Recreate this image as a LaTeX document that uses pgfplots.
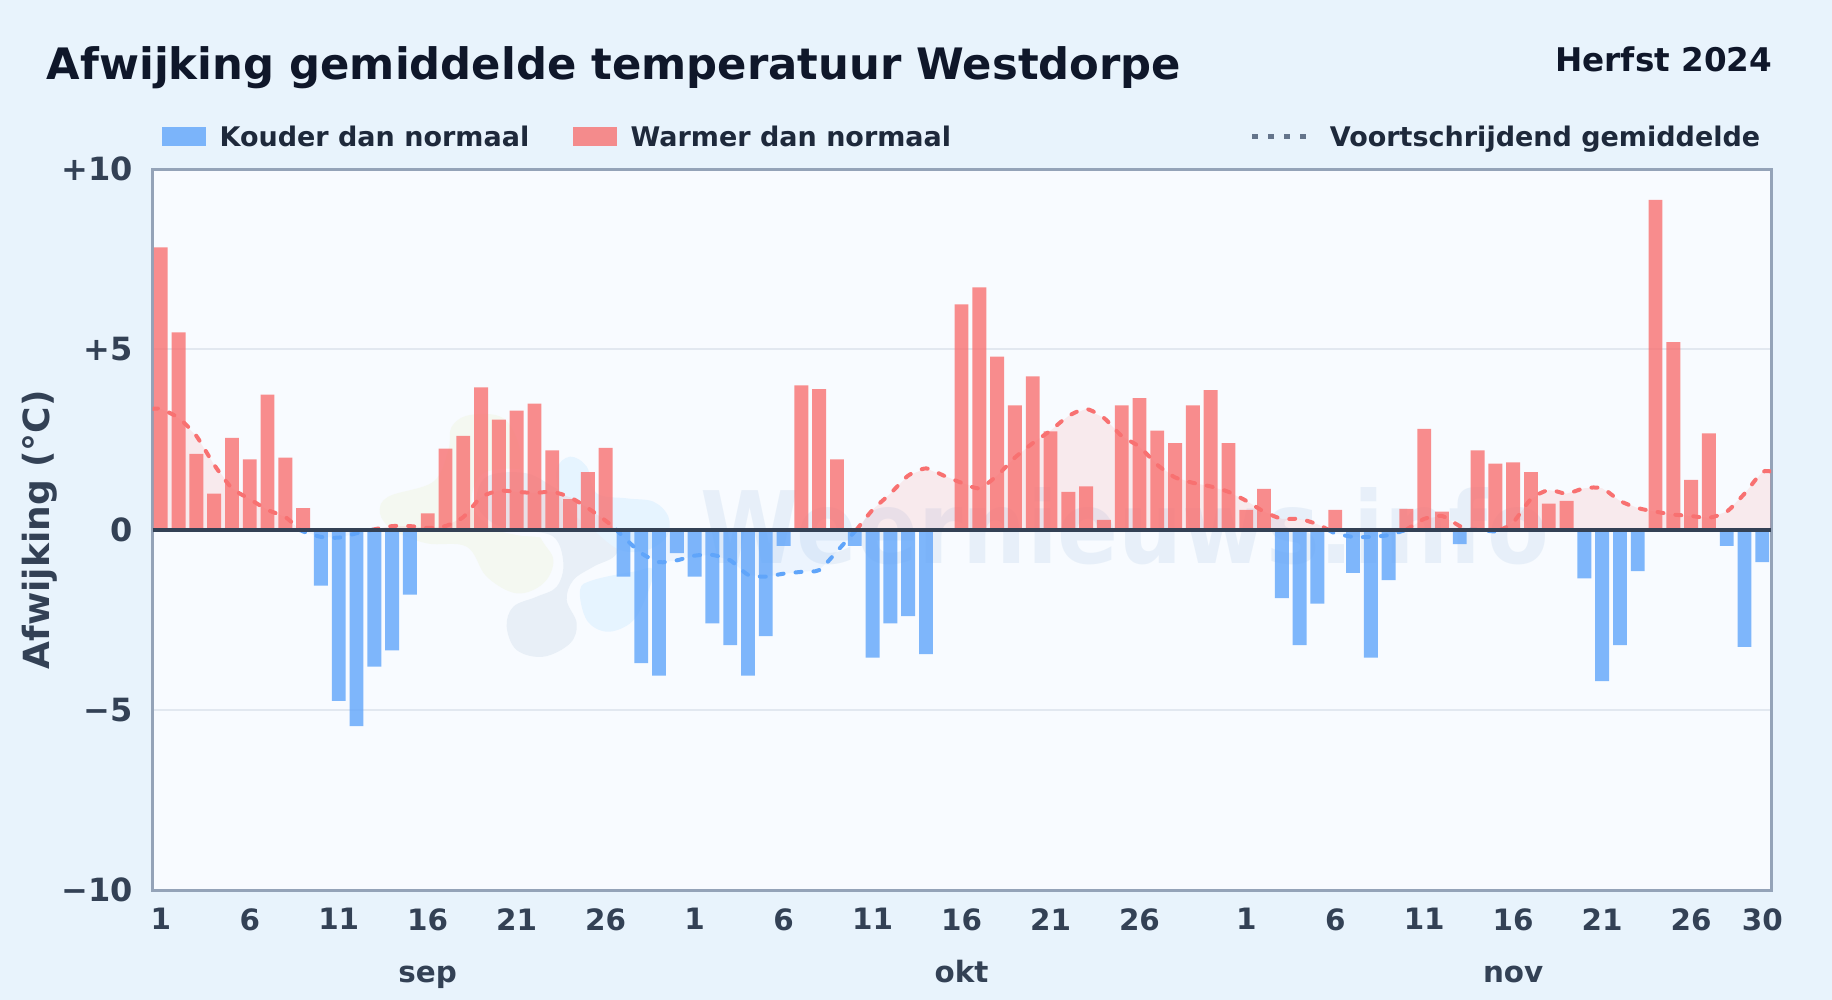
\documentclass[border=0pt]{standalone}
\usepackage{pgfplots}
\usepackage{pgfplotstable}
\usepackage{fontspec}
\setmainfont{DejaVu Sans}
\newfontfamily\wmfont[FakeStretch=0.9]{DejaVu Sans Bold}
\pgfplotsset{compat=1.18}

\definecolor{pagebg}{HTML}{E8F3FC}
\definecolor{plotbg}{HTML}{F8FBFF}
\definecolor{frame}{HTML}{94A3B8}
\definecolor{titlec}{HTML}{0F172A}
\definecolor{labelc}{HTML}{334155}
\definecolor{legc}{HTML}{1E293B}
\definecolor{coldc}{HTML}{60A5FA}
\definecolor{warmc}{HTML}{F87171}
\definecolor{gridc}{HTML}{E2E8F0}
\definecolor{dotc}{HTML}{64748B}
\definecolor{logog}{HTML}{F4F8F1}
\definecolor{logod}{HTML}{E8EFF7}
\definecolor{logob}{HTML}{E6F4FF}
\definecolor{wmark}{HTML}{5B8FC7}

% day index (1 sep = 1), deviation in degrees
\pgfplotstableread{
x y
1 7.83
2 5.47
3 2.1
4 1.0
5 2.55
6 1.95
7 3.75
8 2.0
9 0.6
16 0.45
17 2.25
18 2.6
19 3.95
20 3.05
21 3.3
22 3.5
23 2.2
24 0.85
25 1.6
26 2.27
37 4.0
38 3.9
39 1.95
46 6.25
47 6.72
48 4.8
49 3.45
50 4.25
51 2.73
52 1.05
53 1.2
54 0.27
55 3.45
56 3.65
57 2.75
58 2.4
59 3.45
60 3.87
61 2.4
62 0.55
63 1.13
67 0.55
71 0.58
72 2.8
73 0.5
75 2.2
76 1.83
77 1.87
78 1.6
79 0.72
80 0.8
85 9.15
86 5.2
87 1.38
88 2.67
}\warmtable

\pgfplotstableread{
x y
10 -1.55
11 -4.75
12 -5.45
13 -3.8
14 -3.35
15 -1.8
27 -1.3
28 -3.7
29 -4.05
30 -0.65
31 -1.3
32 -2.6
33 -3.2
34 -4.05
35 -2.95
36 -0.45
40 -0.45
41 -3.55
42 -2.6
43 -2.4
44 -3.45
64 -1.9
65 -3.2
66 -2.05
68 -1.2
69 -3.55
70 -1.4
74 -0.4
81 -1.35
82 -4.2
83 -3.2
84 -1.15
89 -0.45
90 -3.25
91 -0.9
}\coldtable

% running mean, warm and cold part; the crossings of zero are in both
\pgfplotstableread{
x y
0.5 3.35
1 3.35
2 3.1
3 2.6
4 1.8
5 1.15
6 0.85
7 0.55
8 0.35
8.8 0
}\warmA
\pgfplotstableread{
x y
12.9 0
14 0.1
15 0.1
16 0.05
17 0.1
18 0.35
19 0.9
20 1.08
21 1.05
22 1.02
23 1.05
24 0.9
25 0.6
26 0.25
26.6 0
}\warmB
\pgfplotstableread{
x y
40.1 0
41 0.55
42 1.0
43 1.5
44 1.7
45 1.5
46 1.3
47 1.15
48 1.5
49 2.0
50 2.4
51 2.75
52 3.15
53 3.35
54 3.1
55 2.6
56 2.3
57 1.8
58 1.45
59 1.3
60 1.2
61 1.05
62 0.8
63 0.5
64 0.3
65 0.3
66 0.15
66.6 0
}\warmC
\pgfplotstableread{
x y
71 0
72 0.3
73 0.38
74 0.1
74.6 0
}\warmD
\pgfplotstableread{
x y
76.3 0
77 0.2
78 0.85
79 1.1
80 1.0
81 1.15
82 1.15
83 0.8
84 0.6
85 0.5
86 0.42
87 0.38
88 0.33
89 0.5
90 1.0
91 1.6
91.6 1.6
}\warmE

\pgfplotstableread{
x y
8.8 0
9 -0.05
10 -0.2
11 -0.22
12 -0.1
12.9 0
}\coldA
\pgfplotstableread{
x y
26.6 0
27 -0.2
28 -0.65
29 -0.9
30 -0.85
31 -0.72
32 -0.7
33 -0.85
34 -1.25
35 -1.3
36 -1.22
37 -1.17
38 -1.12
39 -0.6
40 -0.05
40.1 0
}\coldB
\pgfplotstableread{
x y
66.6 0
67 -0.1
68 -0.2
69 -0.2
70 -0.15
71 0
}\coldC
\pgfplotstableread{
x y
74.6 0
75 0
76 -0.05
76.3 0
}\coldD

\tikzset{
	warmarea/.style={fill=warmc, fill opacity=0.12, draw=none},
	coldarea/.style={fill=coldc, fill opacity=0.08, draw=none},
	warmline/.style={warmc, line width=2pt, line cap=round, dash pattern=on 3pt off 6pt, smooth, tension=0.4},
	coldline/.style={coldc, line width=2pt, line cap=round, dash pattern=on 3pt off 6pt, smooth, tension=0.4},
	warmbar/.style={fill=warmc, fill opacity=0.8, draw=none},
	coldbar/.style={fill=coldc, fill opacity=0.8, draw=none},
	monthlab/.style={font=\bfseries\fontsize{14.7}{16}\selectfont, text=labelc, anchor=base},
	leglab/.style={font=\bfseries\fontsize{13.5}{15}\selectfont, text=legc, inner sep=0pt},
}

\begin{document}
\begin{tikzpicture}[x=1pt, y=1pt]
	\fill[pagebg] (0,0) rectangle (916,500);
	\path[use as bounding box] (0,0) rectangle (916,500);
	\fill[plotbg] (76.3,54.9) rectangle (885.5,415.4);

	% watermark: logo blobs and name, behind the axis
	\begin{scope}[shift={(180,305)}, x=0.1667pt, y=-0.1667pt]
		\fill[logog] plot[smooth cycle, tension=0.6] coordinates {(60,370) (85,320) (220,275) (265,180) (275,110) (330,75) (430,85) (480,180) (480,300) (540,440) (580,510) (550,580) (470,610) (380,560) (320,470) (200,460) (100,420)};
		\fill[plotbg] plot[smooth cycle, tension=0.6] coordinates {(370,250) (500,240) (600,290) (730,320) (785,400) (785,500) (710,545) (655,585) (640,630) (665,700) (640,770) (550,815) (460,790) (425,710) (445,640) (520,610) (575,580) (595,520) (565,450) (470,435) (390,410) (335,340)};
		\fill[logod] plot[smooth cycle, tension=0.6] coordinates {(380,260) (500,250) (600,300) (720,330) (770,400) (770,490) (700,530) (640,570) (620,630) (650,700) (630,760) (550,800) (470,780) (440,710) (460,650) (530,620) (590,590) (610,520) (580,440) (480,420) (400,400) (350,340)};
		\fill[logob] plot[smooth cycle, tension=0.6] coordinates {(590,240) (630,200) (680,230) (710,310) (800,325) (880,335) (925,380) (920,440) (860,480) (780,480) (700,420) (610,340)};
		\fill[logob] plot[smooth cycle, tension=0.6] coordinates {(660,600) (700,570) (820,545) (880,540) (850,640) (810,700) (740,725) (680,690)};
	\end{scope}
	\node[font=\wmfont\fontsize{50}{50}\selectfont, text=wmark, opacity=0.1, anchor=base west, inner sep=0pt] at (350,218.3) {Weernieuws.info};

	\begin{axis}[
		at={(76.3pt,54.9pt)}, anchor=south west,
		scale only axis, width=809.2pt, height=360.5pt,
		xmin=0.54, xmax=91.49, ymin=-10, ymax=10,
		clip mode=individual,
		axis line style={draw=frame, line width=1.5pt},
		tick style={draw=none},
		xtick={1,6,11,16,21,26,31,36,41,46,51,56,62,67,72,77,82,87,91},
		xticklabels={1,6,11,16,21,26,1,6,11,16,21,26,1,6,11,16,21,26,30},
		ytick={-10,-5,0,5,10},
		yticklabels={−10,−5,0,+5,+10},
		ymajorgrids, grid style={draw=gridc, line width=1pt},
		xticklabel style={font=\bfseries\fontsize{14.7}{16}\selectfont, text=labelc, yshift=-5.5pt},
		yticklabel style={font=\bfseries\fontsize{16}{18}\selectfont, text=labelc, xshift=-6.4pt},
		ylabel={Afwijking (°C)},
		ylabel style={font=\bfseries\fontsize{18}{20}\selectfont, text=labelc, at={(axis description cs:-0.0695,0.5)}, anchor=center},
		bar width=0.78,
	]
		\addplot[warmarea] table {\warmA} \closedcycle;
		\addplot[warmarea] table {\warmB} \closedcycle;
		\addplot[warmarea] table {\warmC} \closedcycle;
		\addplot[warmarea] table {\warmD} \closedcycle;
		\addplot[warmarea] table {\warmE} \closedcycle;
		\addplot[coldarea] table {\coldA} \closedcycle;
		\addplot[coldarea] table {\coldB} \closedcycle;
		\addplot[coldarea] table {\coldC} \closedcycle;

		% the line lies under the bars
		\addplot[warmline] table {\warmA};
		\addplot[warmline] table {\warmB};
		\addplot[warmline] table {\warmC};
		\addplot[warmline] table {\warmD};
		\addplot[warmline] table {\warmE};
		\addplot[coldline] table {\coldA};
		\addplot[coldline] table {\coldB};
		\addplot[coldline] table {\coldC};
		\addplot[coldline] table {\coldD};

		\addplot[ybar, bar shift=0pt, warmbar] table {\warmtable};
		\addplot[ybar, bar shift=0pt, coldbar] table {\coldtable};

		\addplot[labelc, line width=2pt] coordinates {(0.54,0) (91.49,0)};

		\node[monthlab] at (axis cs:16,-12.55) {sep};
		\node[monthlab] at (axis cs:46,-12.55) {okt};
		\node[monthlab] at (axis cs:77,-12.55) {nov};
	\end{axis}

	% title and legend
	\node[font=\bfseries\fontsize{21.66}{24}\selectfont, text=titlec, anchor=west, inner sep=0pt] at (23.2,465.9) {Afwijking gemiddelde temperatuur Westdorpe};
	\node[font=\bfseries\fontsize{16.3}{18}\selectfont, text=titlec, anchor=east, inner sep=0pt] at (886.3,470.5) {Herfst 2024};

	\fill[coldc, opacity=0.8] (81.2,427) rectangle (102.8,436.5);
	\node[leglab, anchor=base west] at (109.6,426.7) {Kouder dan normaal};
	\fill[warmc, opacity=0.8] (286.7,427) rectangle (308.3,436.5);
	\node[leglab, anchor=base west] at (315.1,426.7) {Warmer dan normaal};
	\draw[dotc, line width=2.5pt, dash pattern=on 3pt off 5pt] (626,431.6) -- (653.5,431.6);
	\node[leglab, anchor=base east] at (880.3,426.7) {Voortschrijdend gemiddelde};
\end{tikzpicture}
\end{document}
